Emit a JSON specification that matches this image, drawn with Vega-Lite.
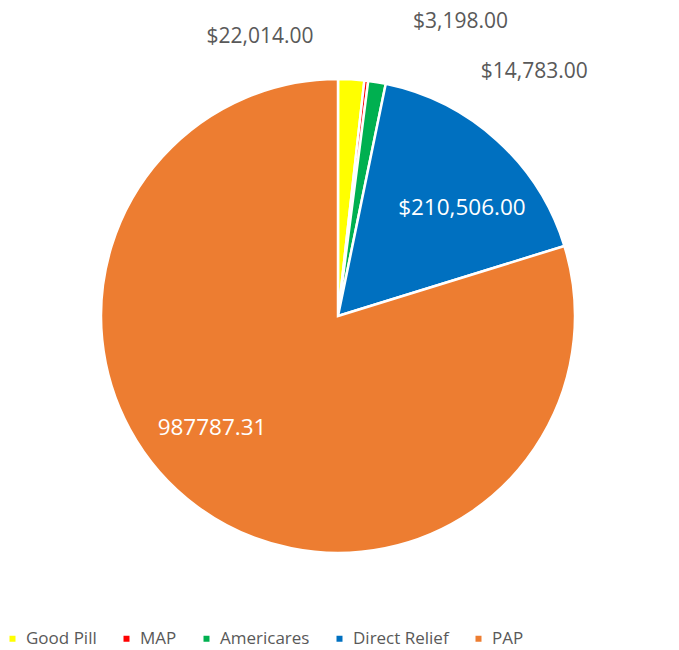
{
  "$schema": "https://vega.github.io/schema/vega-lite/v6.json",
  "width": 676,
  "height": 632,
  "autosize": "none",
  "padding": {"left": 0, "top": 0, "right": 3, "bottom": 18},
  "background": "white",
  "data": {
    "values": [
      {"idx": 1, "category": "Good Pill", "value": 22014, "label": "$22,014.00"},
      {"idx": 2, "category": "MAP", "value": 3198, "label": "$3,198.00"},
      {"idx": 3, "category": "Americares", "value": 14783, "label": "$14,783.00"},
      {"idx": 4, "category": "Direct Relief", "value": 210506, "label": "$210,506.00"},
      {"idx": 5, "category": "PAP", "value": 987787.31, "label": "987787.31"}
    ]
  },
  "encoding": {
    "theta": {"field": "value", "type": "quantitative", "stack": true},
    "order": {"field": "idx", "type": "quantitative"}
  },
  "layer": [
    {
      "mark": {"type": "arc", "outerRadius": 237, "stroke": "white", "strokeWidth": 2.5},
      "encoding": {
        "color": {
          "field": "category",
          "type": "nominal",
          "scale": {
            "domain": ["Good Pill", "MAP", "Americares", "Direct Relief", "PAP"],
            "range": ["#FFFF00", "#FF0000", "#00B050", "#0070C0", "#ED7D31"]
          },
          "legend": {
            "orient": "none",
            "legendX": 4,
            "legendY": 630,
            "direction": "horizontal",
            "title": null,
            "symbolType": "square",
            "symbolSize": 36,
            "symbolStrokeWidth": 0,
            "labelFont": "Open Sans",
            "labelFontSize": 17,
            "labelColor": "#595959",
            "labelOffset": 5,
            "columnPadding": 21
          }
        }
      }
    },
    {
      "mark": {"type": "text", "radius": 260, "dx": -39, "dy": -19, "align": "right", "baseline": "middle", "font": "Open Sans", "fontSize": 21, "color": "#595959"},
      "encoding": {"text": {"condition": {"test": "datum.category === 'Good Pill'", "field": "label"}, "value": ""}}
    },
    {
      "mark": {"type": "text", "radius": 260, "dx": 44, "dy": -36, "align": "left", "baseline": "middle", "font": "Open Sans", "fontSize": 21, "color": "#595959"},
      "encoding": {"text": {"condition": {"test": "datum.category === 'MAP'", "field": "label"}, "value": ""}}
    },
    {
      "mark": {"type": "text", "radius": 260, "dx": 100, "dy": 12, "align": "left", "baseline": "middle", "font": "Open Sans", "fontSize": 21, "color": "#595959"},
      "encoding": {"text": {"condition": {"test": "datum.category === 'Americares'", "field": "label"}, "value": ""}}
    },
    {
      "mark": {"type": "text", "radius": 165, "dx": 13, "dy": 14, "align": "center", "baseline": "middle", "font": "Open Sans", "fontSize": 22.5, "color": "white"},
      "encoding": {"text": {"condition": {"test": "datum.category === 'Direct Relief'", "field": "label"}, "value": ""}}
    },
    {
      "mark": {"type": "text", "radius": 165, "dx": -28, "dy": -21, "align": "center", "baseline": "middle", "font": "Open Sans", "fontSize": 22.5, "color": "white"},
      "encoding": {"text": {"condition": {"test": "datum.category === 'PAP'", "field": "label"}, "value": ""}}
    }
  ]
}
